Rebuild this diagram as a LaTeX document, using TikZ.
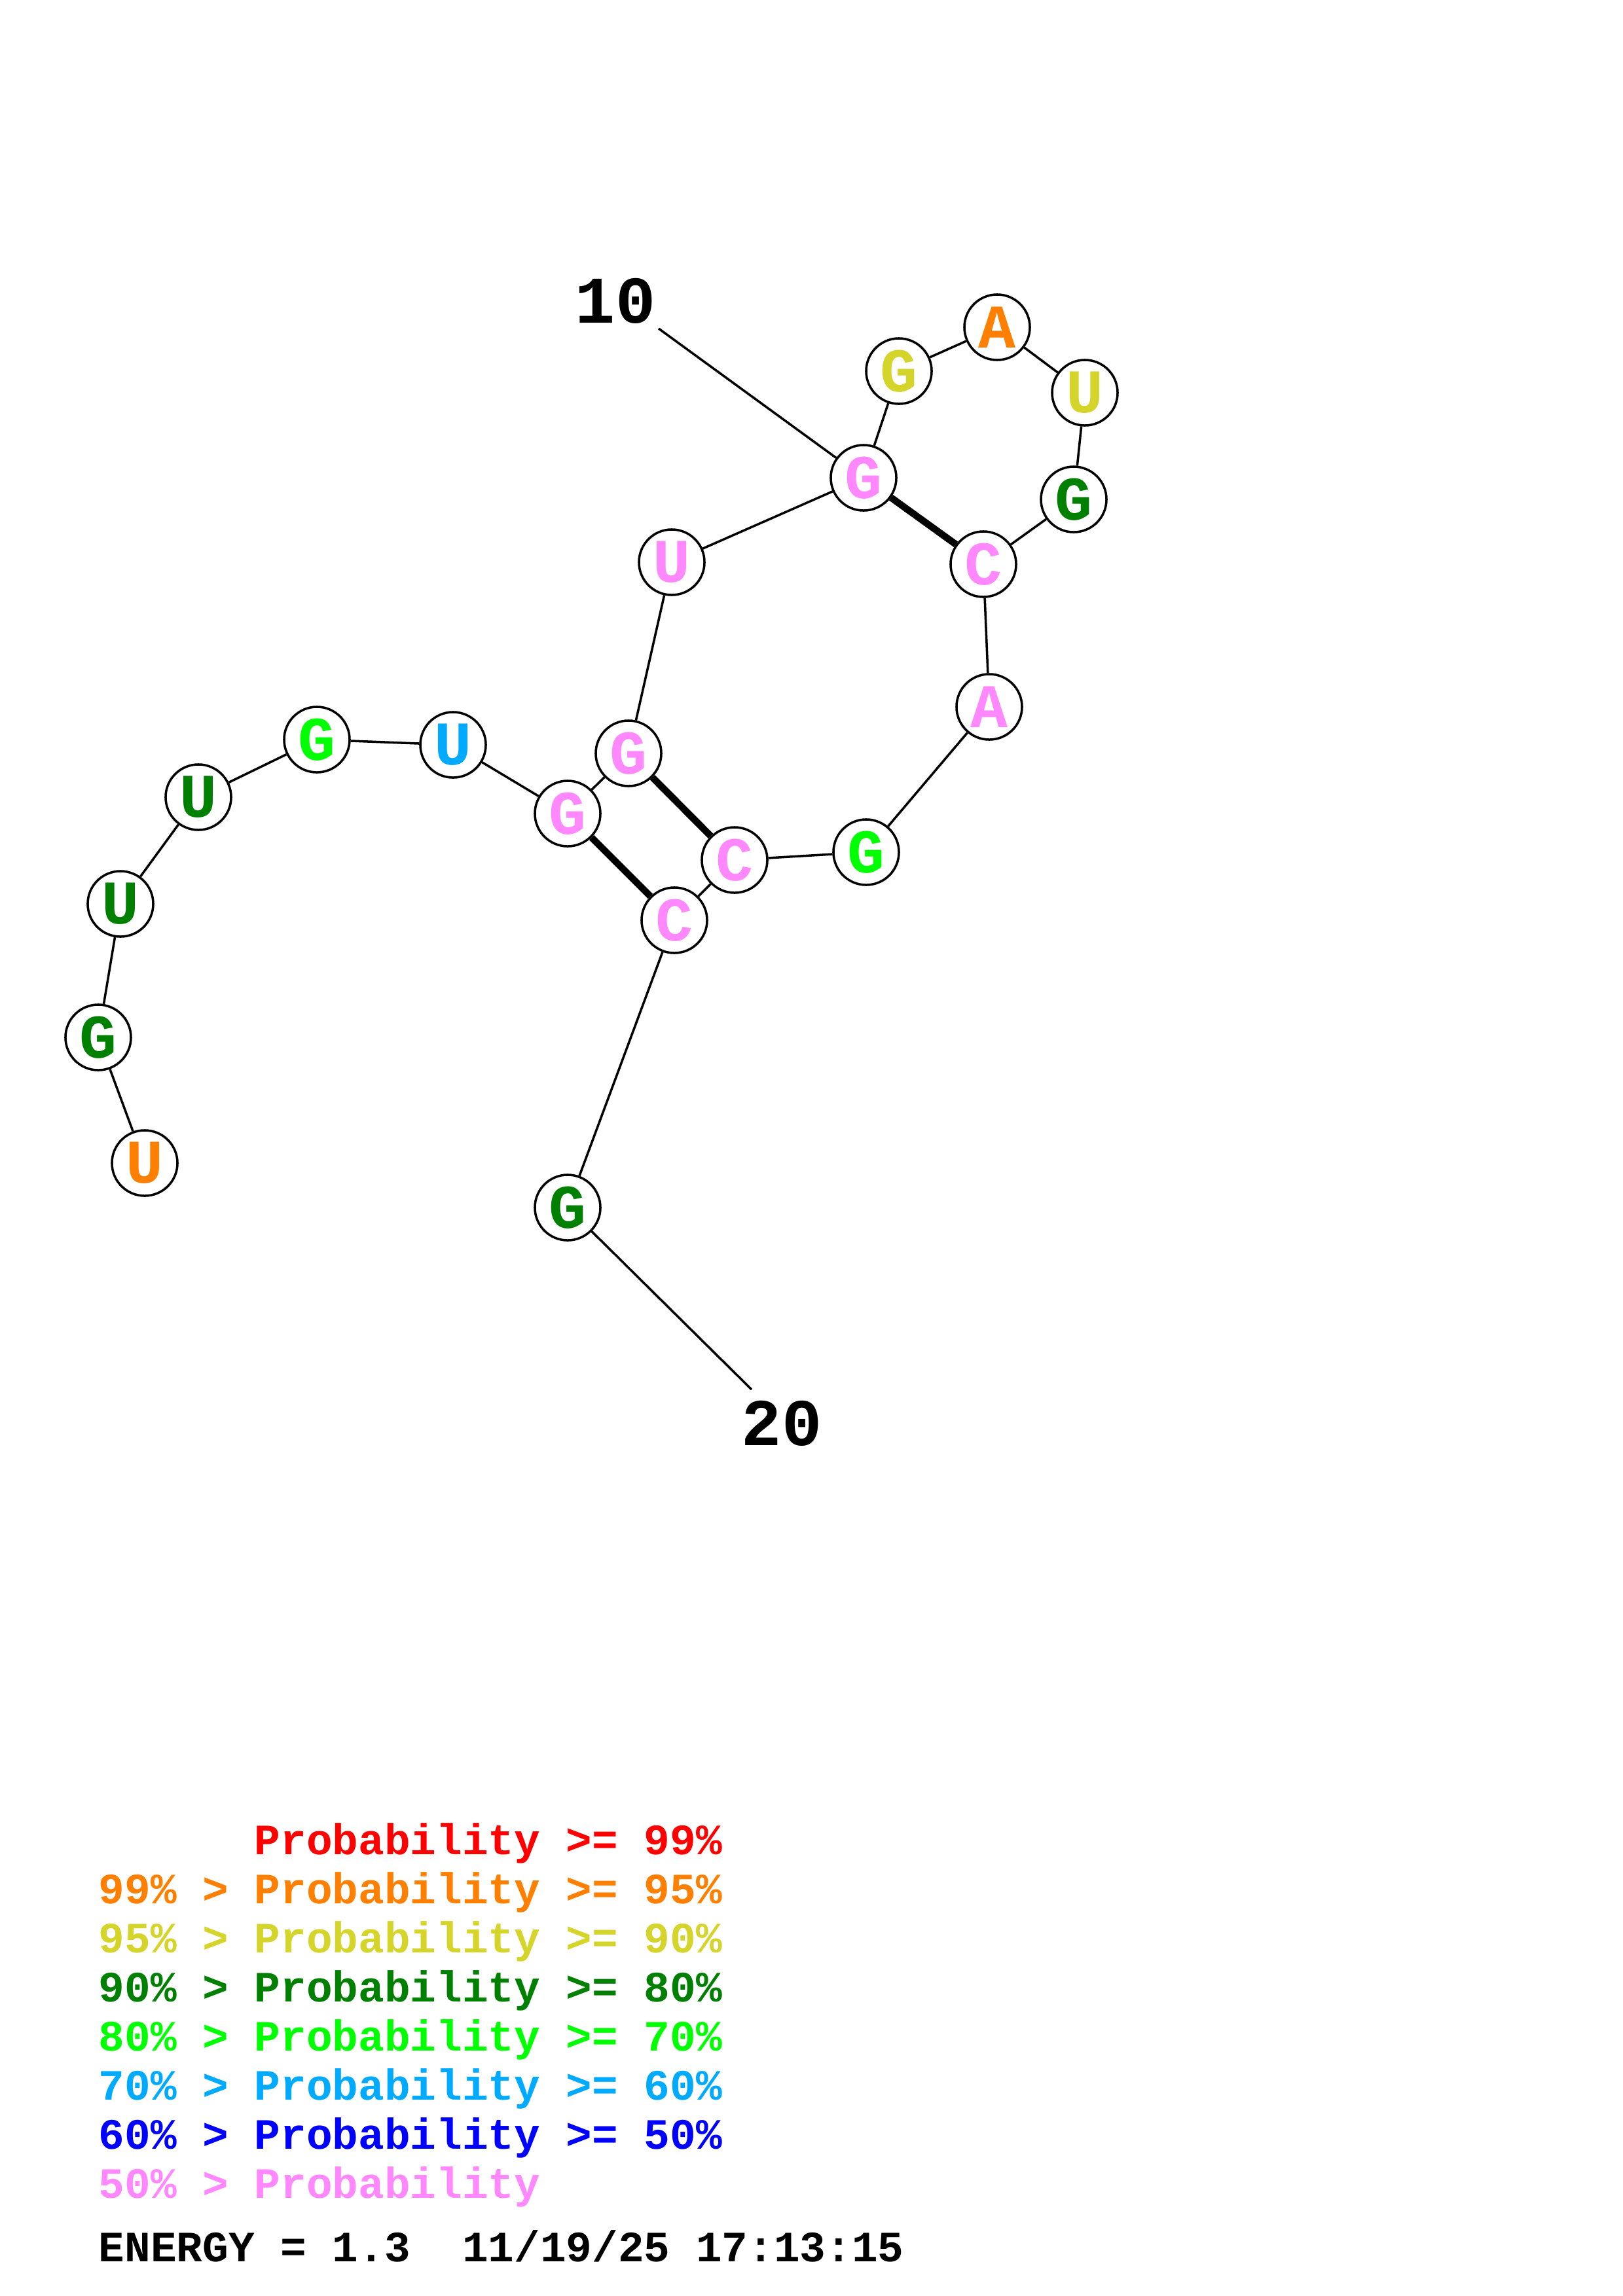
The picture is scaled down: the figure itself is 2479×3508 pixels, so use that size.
\documentclass[tikz,border=0pt]{standalone}
\usepackage{fontspec}
\setmonofont{Liberation Mono}
\usepackage{tikz}

\definecolor{prred}{RGB}{255,0,0}
\definecolor{prorange}{RGB}{255,128,0}
\definecolor{pryellow}{RGB}{212,212,42}
\definecolor{prdkgreen}{RGB}{0,128,0}
\definecolor{prgreen}{RGB}{0,255,0}
\definecolor{prcyan}{RGB}{0,170,255}
\definecolor{prblue}{RGB}{0,0,255}
\definecolor{prpink}{RGB}{255,136,255}

\tikzset{
    base/.style={circle, draw, line width=1pt, fill=white, minimum size=1cm, inner sep=0pt,
        font=\ttfamily\bfseries\fontsize{27}{27}\selectfont},
    bond/.style={line width=1pt},
    pair/.style={line width=3pt},
    numlabel/.style={anchor=base, inner sep=0pt, font=\ttfamily\bfseries\fontsize{29}{29}\selectfont},
    legend/.style={anchor=base west, inner sep=0pt, font=\ttfamily\bfseries\fontsize{18.8}{18.8}\selectfont},
}

\begin{document}
\begin{tikzpicture}[x=0.01cm, y=-0.01cm]
    \useasboundingbox (0,0) rectangle (2479,3508);

    % Bases
    \node(1) at (221,1777) [base, text=prorange] {U};
    \node(2) at (150,1585) [base, text=prdkgreen] {G};
    \node(3) at (184,1381) [base, text=prdkgreen] {U};
    \node(4) at (303,1218) [base, text=prdkgreen] {U};
    \node(5) at (484,1130) [base, text=prgreen] {G};
    \node(6) at (692,1138) [base, text=prcyan] {U};
    \node(7) at (867,1243) [base, text=prpink] {G};
    \node(8) at (960,1151) [base, text=prpink] {G};
    \node(9) at (1026,859) [base, text=prpink] {U};
    \node(10) at (1319,730) [base, text=prpink] {G};
    \node(11) at (1373,567) [base, text=pryellow] {G};
    \node(12) at (1523,500) [base, text=prorange] {A};
    \node(13) at (1657,600) [base, text=pryellow] {U};
    \node(14) at (1640,763) [base, text=prdkgreen] {G};
    \node(15) at (1502,862) [base, text=prpink] {C};
    \node(16) at (1511,1080) [base, text=prpink] {A};
    \node(17) at (1323,1302) [base, text=prgreen] {G};
    \node(18) at (1122,1314) [base, text=prpink] {C};
    \node(19) at (1030,1406) [base, text=prpink] {C};
    \node(20) at (867,1845) [base, text=prdkgreen] {G};

    % Backbone
    \draw [bond] (1) -- (2) -- (3) -- (4) -- (5) -- (6) -- (7) -- (8) -- (9) -- (10);
    \draw [bond] (10) -- (11) -- (12) -- (13) -- (14) -- (15) -- (16) -- (17) -- (18) -- (19) -- (20);

    % Pairs
    \draw [pair] (7) -- (19);
    \draw [pair] (8) -- (18);
    \draw [pair] (10) -- (15);

    % Numbering
    \node(l10) at (940,493) [numlabel] {10};
    \coordinate(e10) at (1006,502);
    \draw [bond] (e10) -- (10);
    \node(l20) at (1194,2208) [numlabel] {20};
    \coordinate(e20) at (1148,2123);
    \draw [bond] (20) -- (e20);

    % Legend
    \node(600) at (150,2833) [legend, text=prred] {\hphantom{99\% > }Probability >= 99\%};
    \node(601) at (150,2908) [legend, text=prorange] {99\% > Probability >= 95\%};
    \node(602) at (150,2983) [legend, text=pryellow] {95\% > Probability >= 90\%};
    \node(603) at (150,3058) [legend, text=prdkgreen] {90\% > Probability >= 80\%};
    \node(604) at (150,3133) [legend, text=prgreen] {80\% > Probability >= 70\%};
    \node(605) at (150,3208) [legend, text=prcyan] {70\% > Probability >= 60\%};
    \node(606) at (150,3283) [legend, text=prblue] {60\% > Probability >= 50\%};
    \node(607) at (150,3358) [legend, text=prpink] {50\% > Probability};
    \node(610) at (150,3455) [legend, text=black] {ENERGY = 1.3\ \ 11/19/25 17:13:15};
\end{tikzpicture}
\end{document}
